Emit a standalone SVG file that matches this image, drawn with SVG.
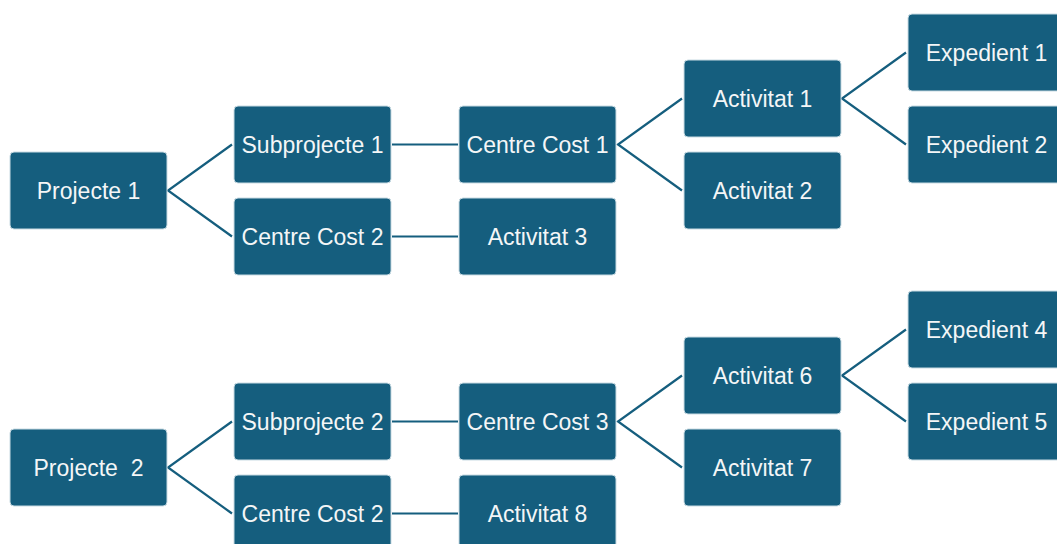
<svg xmlns="http://www.w3.org/2000/svg" width="1057" height="544" viewBox="0 0 1057 544">
  <style>
    .box { fill: #155e7e; stroke: #c9dbe3; stroke-width: 1; }
    .lbl { fill: #f4f6f7; font-family: "Liberation Sans", Arial, sans-serif; font-size: 23px; text-anchor: middle; }
    .link { stroke: #155e7e; stroke-width: 2.2; fill: none; }
  </style>
  <rect width="1057" height="544" fill="#ffffff"/>

  <!-- connectors -->
  <g id="connectors" class="link">
    <!-- tree 1 -->
    <polyline points="232,144.5 168,190.5 232,236.5"/>
    <line x1="392" y1="144.5" x2="458" y2="144.5"/>
    <line x1="392" y1="236.5" x2="458" y2="236.5"/>
    <polyline points="682,98.5 618,144.5 682,190.5"/>
    <polyline points="906,52.5 842,98.5 906,144.5"/>
    <!-- tree 2 -->
    <polyline points="232,421.5 168,467.5 232,513.5"/>
    <line x1="392" y1="421.5" x2="458" y2="421.5"/>
    <line x1="392" y1="513.5" x2="458" y2="513.5"/>
    <polyline points="682,375.5 618,421.5 682,467.5"/>
    <polyline points="906,329.5 842,375.5 906,421.5"/>
  </g>

  <!-- tree 1 -->
  <g id="projecte1"><rect class="box" x="10" y="152" width="157" height="77" rx="4"/><text class="lbl" x="88.5" y="198.5">Projecte 1</text></g>
  <g id="subprojecte1"><rect class="box" x="234" y="106" width="157" height="77" rx="4"/><text class="lbl" x="312.5" y="152.5">Subprojecte 1</text></g>
  <g id="centrecost2a"><rect class="box" x="234" y="198" width="157" height="77" rx="4"/><text class="lbl" x="312.5" y="244.5">Centre Cost 2</text></g>
  <g id="centrecost1"><rect class="box" x="459" y="106" width="157" height="77" rx="4"/><text class="lbl" x="537.5" y="152.5">Centre Cost 1</text></g>
  <g id="activitat3"><rect class="box" x="459" y="198" width="157" height="77" rx="4"/><text class="lbl" x="537.5" y="244.5">Activitat 3</text></g>
  <g id="activitat1"><rect class="box" x="684" y="60" width="157" height="77" rx="4"/><text class="lbl" x="762.5" y="106.5">Activitat 1</text></g>
  <g id="activitat2"><rect class="box" x="684" y="152" width="157" height="77" rx="4"/><text class="lbl" x="762.5" y="198.5">Activitat 2</text></g>
  <g id="expedient1"><rect class="box" x="908" y="14" width="157" height="77" rx="4"/><text class="lbl" x="986.5" y="60.5">Expedient 1</text></g>
  <g id="expedient2"><rect class="box" x="908" y="106" width="157" height="77" rx="4"/><text class="lbl" x="986.5" y="152.5">Expedient 2</text></g>

  <!-- tree 2 -->
  <g id="projecte2"><rect class="box" x="10" y="429" width="157" height="77" rx="4"/><text class="lbl" x="88.5" y="475.5" xml:space="preserve">Projecte  2</text></g>
  <g id="subprojecte2"><rect class="box" x="234" y="383" width="157" height="77" rx="4"/><text class="lbl" x="312.5" y="429.5">Subprojecte 2</text></g>
  <g id="centrecost2b"><rect class="box" x="234" y="475" width="157" height="77" rx="4"/><text class="lbl" x="312.5" y="521.5">Centre Cost 2</text></g>
  <g id="centrecost3"><rect class="box" x="459" y="383" width="157" height="77" rx="4"/><text class="lbl" x="537.5" y="429.5">Centre Cost 3</text></g>
  <g id="activitat8"><rect class="box" x="459" y="475" width="157" height="77" rx="4"/><text class="lbl" x="537.5" y="521.5">Activitat 8</text></g>
  <g id="activitat6"><rect class="box" x="684" y="337" width="157" height="77" rx="4"/><text class="lbl" x="762.5" y="383.5">Activitat 6</text></g>
  <g id="activitat7"><rect class="box" x="684" y="429" width="157" height="77" rx="4"/><text class="lbl" x="762.5" y="475.5">Activitat 7</text></g>
  <g id="expedient4"><rect class="box" x="908" y="291" width="157" height="77" rx="4"/><text class="lbl" x="986.5" y="337.5">Expedient 4</text></g>
  <g id="expedient5"><rect class="box" x="908" y="383" width="157" height="77" rx="4"/><text class="lbl" x="986.5" y="429.5">Expedient 5</text></g>
</svg>
